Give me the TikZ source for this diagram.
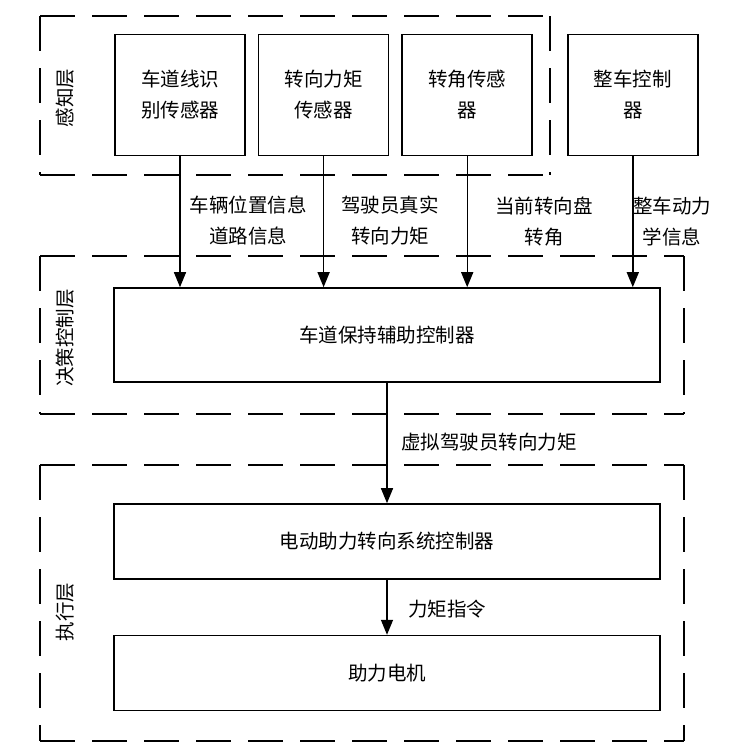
\documentclass[tikz,border=0pt]{standalone}
\usepackage{fontspec}
\setmainfont{Noto Sans CJK SC}
\usetikzlibrary{positioning}
\usetikzlibrary{arrows.meta}

\begin{document}
\begin{tikzpicture}[
        x=1pt, y=-1pt,
        node distance=12pt,
        font=\fontsize{19.5}{31}\selectfont,
        sensor/.style={draw, line width=1.6pt, minimum width=130pt,
                       minimum height=121pt, inner sep=0pt, align=center},
        wide/.style={draw, line width=1.6pt, minimum width=546pt,
                     inner sep=0pt, align=center},
        layer/.style={dash pattern=on 35pt off 17pt, line width=2pt},
        tag/.style={align=center, inner sep=0pt},
        arrow/.style={-{Triangle[length=15pt, width=12pt]}, line width=1.4pt}
    ]
        \fill[white] (0,0) rectangle (736,753);
        \useasboundingbox (0,0) rectangle (736,753);

        \foreach \xa/\ya/\xb/\yb in {40/16/550/175, 40/256/684/414, 40/465/684/741} {
            \draw[layer] (\xa,\ya) -- (\xb,\ya);
            \draw[layer] (\xb,\ya) -- (\xb,\yb);
            \draw[layer] (\xa,\yb) -- (\xb,\yb);
            \draw[layer] (\xa,\ya) -- (\xa,\yb);
        }

        \node[tag, rotate=90] (sense) at (65,98) {感知层};
        \node[tag, rotate=90] (decide) at (65,338) {决策控制层};
        \node[tag, rotate=90] (act) at (65,612) {执行层};

        \node[sensor] (lane) at (180,95) {车道线识\\别传感器};
        \node[sensor, right=of lane] (torque) {转向力矩\\传感器};
        \node[sensor, right=of torque] (angle) {转角传感\\器};
        \node[sensor, right=34pt of angle] (vcu) {整车控制\\器};

        \node[wide, minimum height=94pt] (lkas) at (387,335) {车道保持辅助控制器};
        \node[wide, minimum height=75pt] (eps) at (387,541.5) {电动助力转向系统控制器};
        \node[wide, minimum height=75pt, below=55pt of eps] (motor) {助力电机};

        \node[tag] (posinfo) at (248,221) {车辆位置信息\\道路信息};
        \node[tag] (drvtq) at (390,221) {驾驶员真实\\转向力矩};
        \node[tag] (swangle) at (544,222) {当前转向盘\\转角};
        \node[tag] (dyninfo) at (672,222) {整车动力\\学信息};
        \node[tag] (virttq) at (489,442) {虚拟驾驶员转向力矩};
        \node[tag] (tqcmd) at (447,609) {力矩指令};

        \draw[arrow] (lane) -- (lane |- lkas.north);
        \draw[arrow] (torque) -- (torque |- lkas.north);
        \draw[arrow] (angle) -- (angle |- lkas.north);
        \draw[arrow] (vcu) -- (vcu |- lkas.north);
        \draw[arrow] (lkas) -- (eps);
        \draw[arrow] (eps) -- (motor);
    \end{tikzpicture}
\end{document}
